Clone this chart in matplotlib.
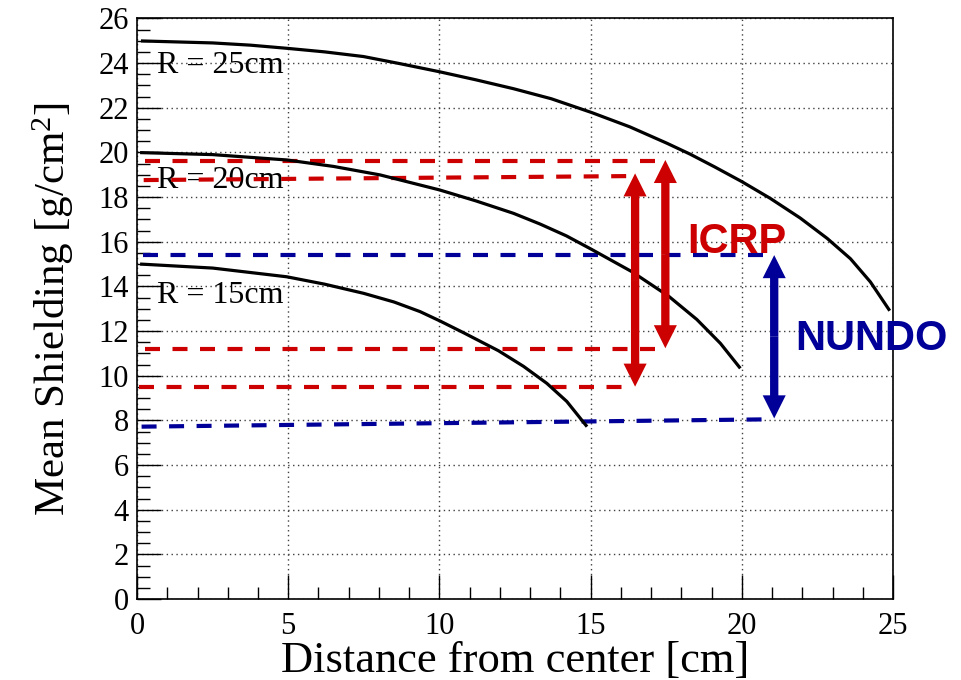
import numpy as np
import matplotlib.pyplot as plt
from matplotlib.ticker import MultipleLocator

plt.rcParams['font.family'] = ['Liberation Serif', 'DejaVu Serif']
plt.rcParams['mathtext.fontset'] = 'custom'
plt.rcParams['mathtext.rm'] = 'Liberation Serif'
plt.rcParams['mathtext.it'] = 'Liberation Serif:italic'

# curves: mean shielding vs distance from centre
r25_x = [0.13, 2.5, 3.75, 4.95, 6.2, 7.49, 8.7, 10.0, 11.2, 12.45, 13.7, 15.04,
         16.3, 17.52, 18.29, 19.1, 20.0, 20.94, 21.93, 22.82, 23.59, 24.25, 24.89]
r25_y = [24.99, 24.9, 24.8, 24.66, 24.5, 24.29, 23.97, 23.61, 23.25, 22.85, 22.4, 21.78,
         21.14, 20.41, 19.92, 19.35, 18.69, 17.94, 17.06, 16.15, 15.24, 14.2, 12.91]

r20_x = [0.1, 2.5, 4.95, 6.5, 8.04, 10.0, 11.2, 12.45, 13.33, 14.2, 15.04, 16.36,
         17.58, 18.51, 19.29, 19.95]
r20_y = [19.99, 19.9, 19.66, 19.37, 18.99, 18.32, 17.83, 17.27, 16.79, 16.26, 15.65, 14.66,
         13.56, 12.52, 11.45, 10.33]

r15_x = [0.1, 2.5, 4.95, 6.2, 7.49, 8.5, 9.36, 10.02, 10.79, 11.95, 12.78, 13.55,
         14.21, 14.88]
r15_y = [15.0, 14.82, 14.43, 14.1, 13.69, 13.3, 12.87, 12.45, 11.93, 11.12, 10.42, 9.66,
         8.85, 7.72]

curve_labels = ['R = 25cm', 'R = 20cm', 'R = 15cm']
label_y = [23.91, 18.76, 13.61]

# ICRP dashed levels (start x, end x, y at start, y at end)
icrp_x0 = [0.27, 0.22, 0.27, 0.05]
icrp_x1 = [17.47, 16.42, 17.47, 16.42]
icrp_y0 = [19.63, 18.76, 11.18, 9.48]
icrp_y1 = [19.63, 18.94, 11.18, 9.48]

# NUNDO dashed levels
nundo_x0 = [0.2, 0.15]
nundo_x1 = [21.03, 21.03]
nundo_y0 = [15.4, 7.72]
nundo_y1 = [15.4, 8.05]

# double arrows
icrp_arrow_x = [16.47, 17.47]
icrp_arrow_top = [19.06, 19.66]
icrp_arrow_bot = [9.51, 11.23]
nundo_arrow_x = [21.07]
nundo_arrow_top = [15.4]
nundo_arrow_bot = [8.09]

RED = '#cc0000'
BLUE = '#000099'

fig = plt.figure(figsize=(9.61, 6.8), dpi=100)
ax = fig.add_axes([0.1426, 0.119, 0.7867, 0.854])

for xs, ys in [(r25_x, r25_y), (r20_x, r20_y), (r15_x, r15_y)]:
    ax.plot(xs, ys, color='black', lw=2.3, zorder=4, solid_capstyle='butt',
            solid_joinstyle='round')

for x0, x1, y0, y1 in zip(icrp_x0, icrp_x1, icrp_y0, icrp_y1):
    ax.plot([x0, x1], [y0, y1], color=RED, lw=3, dashes=(3.6, 3.0), zorder=3)
for x0, x1, y0, y1 in zip(nundo_x0, nundo_x1, nundo_y0, nundo_y1):
    ax.plot([x0, x1], [y0, y1], color=BLUE, lw=3, dashes=(3.6, 3.0), zorder=3)


def double_arrow(x, top, bot, color):
    mid = (top + bot) / 2
    for end in (top, bot):
        ax.annotate('', xy=(x, end), xytext=(x, mid),
                    arrowprops=dict(arrowstyle='simple,head_length=1,head_width=1,tail_width=0.36',
                                    mutation_scale=16.6, color=color, lw=0,
                                    shrinkA=0, shrinkB=0), zorder=5)


for x, t, b in zip(icrp_arrow_x, icrp_arrow_top, icrp_arrow_bot):
    double_arrow(x, t, b, RED)
for x, t, b in zip(nundo_arrow_x, nundo_arrow_top, nundo_arrow_bot):
    double_arrow(x, t, b, BLUE)

for lab, y in zip(curve_labels, label_y):
    ax.text(0.66, y, lab, fontsize=23, va='center', ha='left', zorder=2)

ax.text(18.18, 15.48, 'ICRP', color=RED, fontsize=30, fontweight='bold',
        family='Liberation Sans', va='baseline', zorder=6)
ax.text(21.77, 11.15, 'NUNDO', color=BLUE, fontsize=30, fontweight='bold',
        family='Liberation Sans', va='baseline', clip_on=False, zorder=6)

ax.set_xlim(0, 25)
ax.set_ylim(0, 26)
ax.xaxis.set_major_locator(MultipleLocator(5))
ax.xaxis.set_minor_locator(MultipleLocator(1))
ax.yaxis.set_major_locator(MultipleLocator(2))
ax.yaxis.set_minor_locator(MultipleLocator(0.5))
ax.tick_params(which='both', direction='in', top=False, right=False, width=1)
ax.tick_params(which='major', length=17, labelsize=22)
ax.tick_params(axis='x', which='major', pad=9)
ax.tick_params(axis='y', which='major', pad=6)
ax.tick_params(which='minor', length=9)
ax.grid(True, which='major', color='0.25', linestyle=(0, (1, 2.5)), lw=1)

for sp in ax.spines.values():
    sp.set_linewidth(1.2)

ax.set_xlabel('Distance from center [cm]', fontsize=32, labelpad=0)
ax.set_ylabel('Mean Shielding [g/cm$^{2}$]', fontsize=31, labelpad=16)

fig.savefig('out.png', dpi=100)
